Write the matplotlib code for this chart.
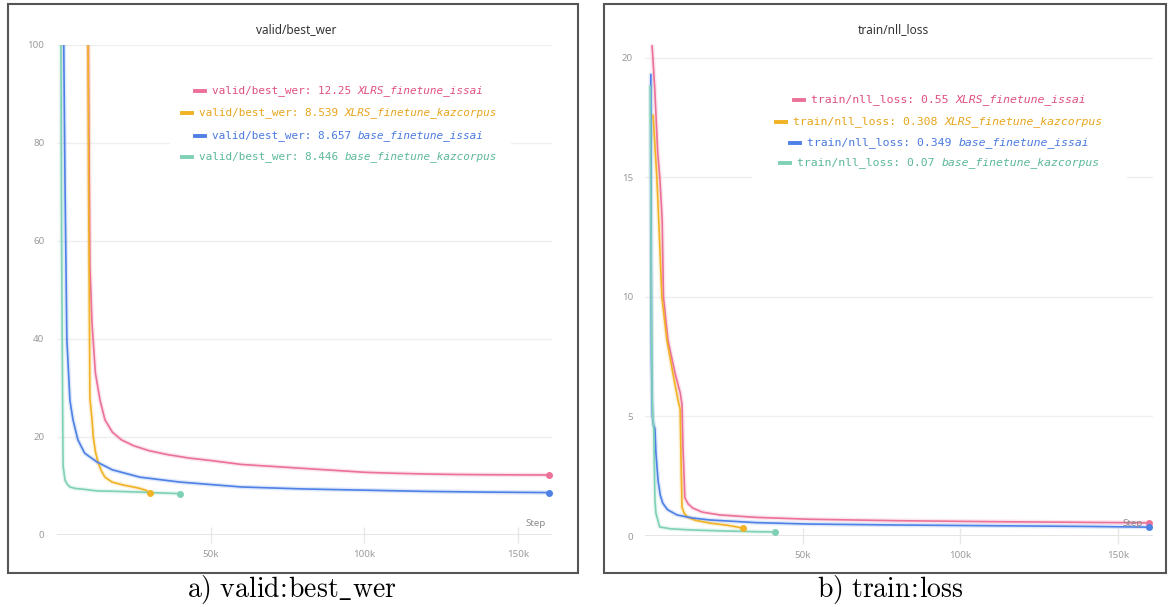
import matplotlib
matplotlib.use("Agg")
import matplotlib.pyplot as plt
from matplotlib.lines import Line2D
from matplotlib.patches import Rectangle

# runs
runs = ["XLRS_finetune_issai", "XLRS_finetune_kazcorpus",
        "base_finetune_issai", "base_finetune_kazcorpus"]
line_colors = ["#ec7199", "#f1b225", "#4d81e6", "#7fd1b5"]
text_colors = ["#e0507f", "#e8a51c", "#4a7ae0", "#5db89b"]

# valid/best_wer, steps in k
wer_pink_x = [10.0, 10.4, 10.7, 11.4, 12.5, 14, 15.6, 18, 21, 25, 30, 36, 43, 50,
              60, 70, 80, 90, 100, 110, 120, 130, 140, 150, 160]
wer_pink_y = [115, 80, 55, 43, 33, 27.5, 23.5, 21, 19.4, 18.2, 17.2, 16.4, 15.7, 15.2,
              14.4, 14.0, 13.6, 13.2, 12.8, 12.6, 12.45, 12.35, 12.3, 12.27, 12.25]
wer_yell_x = [10.0, 10.3, 10.7, 11.4, 11.8, 12.5, 13.3, 14.5, 15.6, 17.9, 21.5, 24,
              27, 29, 30.2]
wer_yell_y = [115, 70, 28, 23.5, 20, 17, 14.9, 13, 11.8, 10.8, 10.2, 9.9,
              9.5, 9.1, 8.54]
wer_blue_x = [1.9, 2.2, 2.6, 3.2, 4.2, 5.2, 6.8, 9, 13, 18, 27, 40, 50, 60, 80,
              100, 120, 140, 160]
wer_blue_y = [115, 100, 72, 40, 27.5, 23.5, 19.4, 16.7, 14.9, 13.3, 11.8, 10.8,
              10.3, 9.8, 9.4, 9.15, 8.9, 8.75, 8.657]
wer_green_x = [1.2, 1.5, 1.8, 1.9, 2.0, 2.6, 3.3, 4.2, 6, 8.5, 13, 20, 27, 33, 40]
wer_green_y = [115, 60, 30, 20, 14, 11.2, 10.4, 9.8, 9.5, 9.35, 9.0, 8.9, 8.75,
               8.6, 8.446]

# train/nll_loss, steps in k
nll_pink_x = [2.1, 2.9, 3.9, 4.6, 5.3, 5.7, 7.1, 9.4, 11.0, 11.6, 11.9, 12.5, 13.5,
              15, 18, 23.7, 35, 52, 80, 110, 140, 160]
nll_pink_y = [20.5, 18.8, 16.0, 14.9, 13.2, 10.0, 8.2, 6.8, 6.0, 5.5, 3.7, 1.6, 1.35,
              1.17, 1.0, 0.88, 0.78, 0.7, 0.64, 0.6, 0.57, 0.55]
nll_yell_x = [2.4, 3.0, 3.6, 4.2, 5.2, 6.8, 8.7, 10.3, 11.0, 11.3, 11.6, 12.3, 13.2,
              16, 20.5, 26, 31]
nll_yell_y = [17.6, 16.3, 15.0, 13.2, 10.0, 8.2, 6.8, 5.7, 5.3, 3.0, 1.2, 0.95, 0.8,
              0.65, 0.54, 0.45, 0.33]
nll_blue_x = [1.7, 1.8, 1.9, 2.0, 2.2, 2.6, 3.0, 3.3, 4.0, 4.7, 5.5, 7, 10, 15, 20.5,
              35, 52, 80, 110, 140, 160]
nll_blue_y = [19.3, 12, 7.5, 6.5, 5.0, 4.6, 4.5, 3.5, 2.3, 1.7, 1.37, 1.1, 0.88, 0.75,
              0.67, 0.56, 0.5, 0.46, 0.43, 0.4, 0.37]
nll_green_x = [1.5, 1.7, 1.9, 2.1, 2.3, 2.6, 2.8, 3.0, 3.3, 4.5, 8, 15, 25, 35, 41]
nll_green_y = [18.8, 14, 9, 6, 5.0, 4.5, 3.0, 1.5, 0.96, 0.38, 0.3, 0.25, 0.21,
               0.18, 0.17]

wer_last = ["12.25", "8.539", "8.657", "8.446"]
nll_last = ["0.55", "0.308", "0.349", "0.07"]

xticks = [50, 100, 150]
xtick_labels = ["50k", "100k", "150k"]

W, H = 1168, 607
fig = plt.figure(figsize=(W / 100, H / 100), dpi=100)
plt.rcParams["mathtext.fontset"] = "cm"


def fx(px):
    return px / W


def fy(py):
    return 1 - py / H


def panel(rect, series, ylim, yticks, title, tx, metric, last, cx, rows_y, fs, box, step_x):
    ax = fig.add_axes(rect)
    for (xs, ys), c in zip(series, line_colors):
        ax.plot(xs, ys, color=c, lw=3.2, alpha=0.18, solid_capstyle="round", zorder=2)
        ax.plot(xs, ys, color=c, lw=1.2, zorder=3)
        ax.plot(xs[-1], ys[-1], "o", ms=4, color=c, zorder=4, clip_on=False)
    ax.set_xlim(0, 161)
    ax.set_ylim(*ylim)
    ax.set_yticks(yticks)
    ax.set_xticks(xticks)
    ax.set_xticklabels(xtick_labels)
    for s in ax.spines.values():
        s.set_visible(False)
    ax.yaxis.grid(True, color="#efefef", lw=1, zorder=0)
    ax.axhline(0, color="#e0e0e0", lw=2, zorder=1)
    ax.tick_params(axis="y", length=0, pad=9, labelsize=7, labelcolor="#9a9a9a")
    ax.tick_params(axis="x", direction="inout", length=11, width=1, color="#e8e8e8",
                   pad=5, labelsize=7, labelcolor="#9a9a9a")
    for lab in ax.get_xticklabels() + ax.get_yticklabels():
        lab.set_family("Noto Sans")
    fig.text(fx(step_x), fy(524), "Step", ha="center", va="center", fontsize=7,
             color="#8a8a8a", family="Noto Sans", zorder=10)
    fig.text(fx(tx), fy(30), title, ha="center", va="center", fontsize=8.5,
             color="#333333", family="Noto Sans")

    # legend box
    fig.add_artist(Rectangle((fx(box[0]), fy(box[3])), fx(box[1] - box[0]),
                             (box[3] - box[2]) / H, transform=fig.transFigure,
                             facecolor="white", edgecolor="none", zorder=5))
    cw = 0.60205 * fs * 100 / 72
    for i, run in enumerate(runs):
        head = f"{metric}: {last[i]} "
        n = len(head) + len(run)
        total = 17 + n * cw
        x0 = cx - total / 2
        y = rows_y[i]
        fig.add_artist(Line2D([fx(x0), fx(x0 + 10)], [fy(y), fy(y)], color=line_colors[i],
                              lw=2.8, transform=fig.transFigure, zorder=6))
        fig.text(fx(x0 + 17), fy(y), head, ha="left", va="center", fontsize=fs,
                 color=text_colors[i], family="DejaVu Sans Mono", zorder=7)
        fig.text(fx(x0 + 17 + len(head) * cw), fy(y), run, ha="left", va="center",
                 fontsize=fs, color=text_colors[i], family="DejaVu Sans Mono",
                 style="italic", zorder=7)
    return ax


wer_series = [(wer_pink_x, wer_pink_y), (wer_yell_x, wer_yell_y),
              (wer_blue_x, wer_blue_y), (wer_green_x, wer_green_y)]
nll_series = [(nll_pink_x, nll_pink_y), (nll_yell_x, nll_yell_y),
              (nll_blue_x, nll_blue_y), (nll_green_x, nll_green_y)]

panel([fx(57), 1 - 535 / H, 495 / W, 490 / H], wer_series, (0, 100),
      [0, 20, 40, 60, 80, 100], "valid/best_wer", 296, "valid/best_wer", wer_last,
      339, [91, 113, 136, 157], 7.9, (170, 511, 72, 172), 536)
panel([fx(645.5), 1 - 536 / H, 507 / W, 496 / H], nll_series, (0, 20.75),
      [0, 5, 10, 15, 20], "train/nll_loss", 893, "train/nll_loss", nll_last,
      940, [100, 122, 143, 163], 8.25, (752, 1127, 82, 182), 1133)

# frames
for x0, x1 in [(8, 578), (604, 1166)]:
    fig.add_artist(Rectangle((fx(x0), fy(573)), fx(x1 - x0), 569 / H,
                             transform=fig.transFigure, facecolor="none",
                             edgecolor="#555555", lw=1.5, zorder=20))

fig.text(fx(292), fy(590), r"$\mathrm{a)\ valid\!:\!best\_wer}$", ha="center",
         va="center", fontsize=20, color="black")
fig.text(fx(890), fy(590), r"$\mathrm{b)\ train\!:\!loss}$", ha="center",
         va="center", fontsize=20, color="black")

fig.savefig("out.png", dpi=100)
